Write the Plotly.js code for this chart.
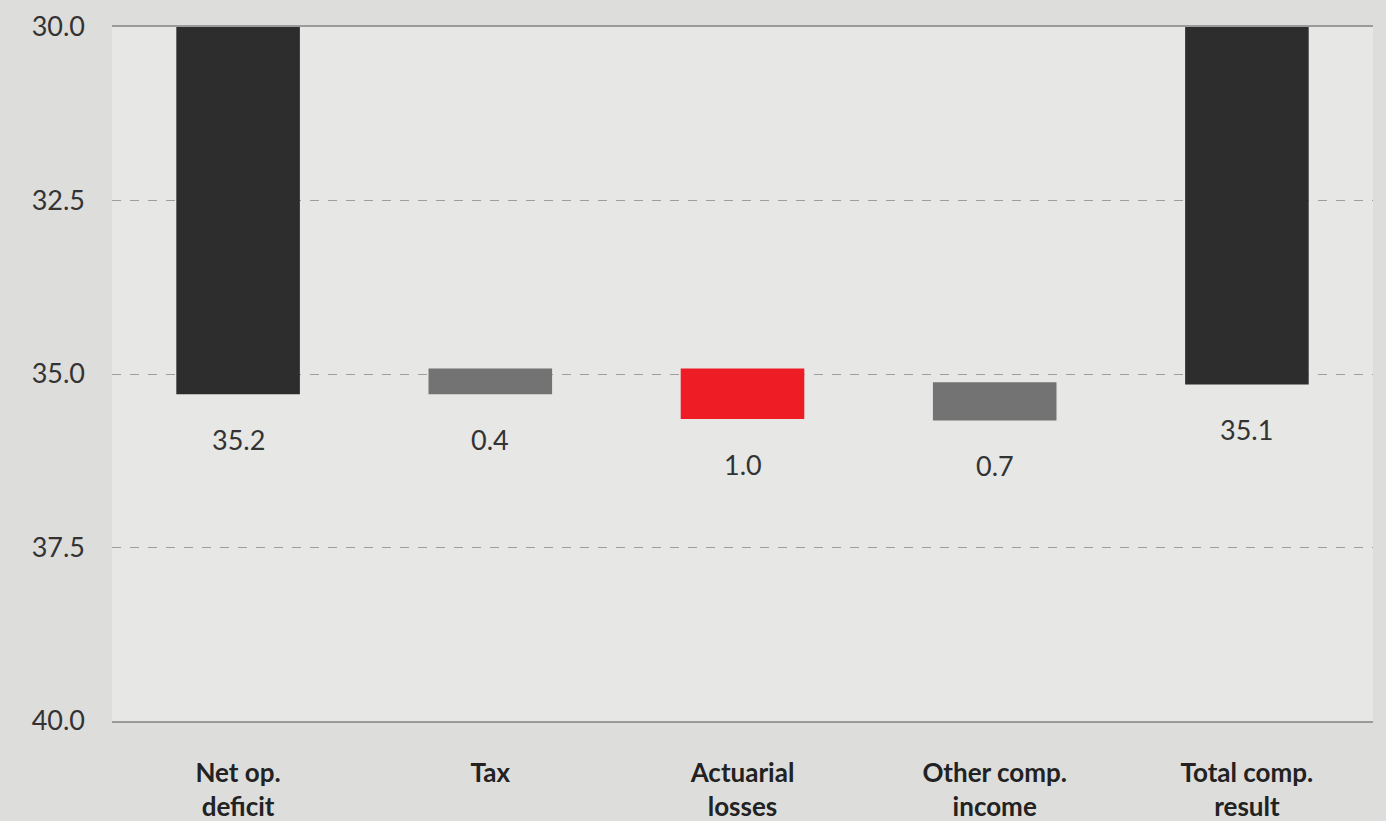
<!DOCTYPE html>
<html>
<head>
<meta charset="utf-8">
<script src="https://cdn.plot.ly/plotly-3.0.1.min.js"></script>
<style>html,body{margin:0;padding:0;background:#dddddc;}#chart{width:1386px;height:821px;}</style>
</head>
<body>
<div id="chart"></div>
<script>
const categories = ['Net op.<br>deficit', 'Tax', 'Actuarial<br>losses', 'Other comp.<br>income', 'Total comp.<br>result'];
const barStart = [30, 34.92, 34.92, 35.12, 30];
const barEnd = [35.29, 35.29, 35.65, 35.67, 35.15];
const valueLabels = ['35.2', '0.4', '1.0', '0.7', '35.1'];
const barColors = ['#2d2d2d', '#737373', '#ee1c25', '#737373', '#2d2d2d'];
const yTicks = [30, 32.5, 35, 37.5, 40];

const lengths = barEnd.map((e, i) => e - barStart[i]);

const trace = {
  type: 'bar',
  x: categories,
  y: lengths,
  base: barStart,
  width: 0.49,
  marker: {color: barColors, line: {width: 0}},
  hoverinfo: 'skip',
  showlegend: false
};

const annotations = categories.map((c, i) => ({
  x: c, y: barEnd[i], xref: 'x', yref: 'y',
  text: valueLabels[i], showarrow: false,
  yanchor: 'middle', yshift: -45,
  font: {family: 'Lato', size: 27, color: '#333333'}
}));

const layout = {
  width: 1386, height: 821,
  paper_bgcolor: '#dddddc',
  plot_bgcolor: '#e7e7e5',
  margin: {l: 112, r: 13, t: 27, b: 100},
  font: {family: 'Lato', color: '#333333'},
  xaxis: {
    type: 'category',
    showline: true, mirror: true, linecolor: '#9a9a9a', linewidth: 2,
    ticks: '', ticklabelstandoff: 28,
    tickfont: {family: 'Lato', size: 26, color: '#222222', weight: 'bold'},
    showgrid: false, fixedrange: true
  },
  yaxis: {
    range: [40, 30],
    tickvals: yTicks,
    ticktext: yTicks.map(v => v.toFixed(1)),
    showgrid: true, gridcolor: '#9e9e9e', gridwidth: 1, griddash: 'dash',
    zeroline: false, showline: false,
    ticks: '', ticklabelstandoff: 26,
    tickfont: {family: 'Lato', size: 27, color: '#333333'},
    fixedrange: true
  },
  annotations: annotations,
  bargap: 0.5
};

Plotly.newPlot('chart', [trace], layout, {displayModeBar: false, staticPlot: true});
</script>
</body>
</html>
